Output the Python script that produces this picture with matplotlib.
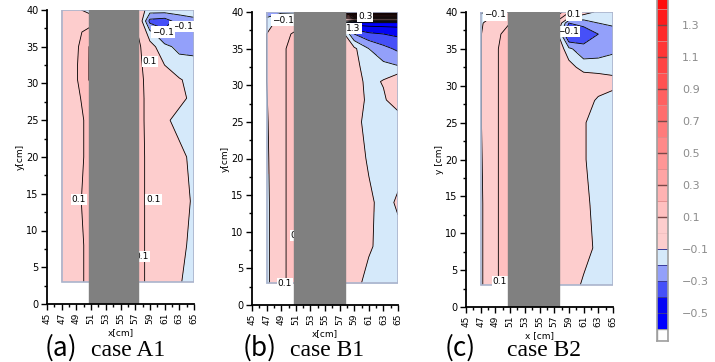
import numpy as np
import matplotlib
matplotlib.use('Agg')
import matplotlib.pyplot as plt
from matplotlib.colors import ListedColormap, BoundaryNorm
from matplotlib.patches import Rectangle

# grid of measuring points (x across, y up)
x_cm = [47, 49, 51, 53, 55, 57, 59, 61, 63, 65]
y_cm = [3, 8, 14, 20, 25, 28, 30.5, 32.5, 35, 37, 38.5, 40]

# vertical velocity, one row per y (bottom to top)
w_a1 = [
    [0.02, 0.08, 0.12, 0.15, 0.15, 0.19, 0.05, 0.00, -0.09, -0.15],
    [0.03, 0.08, 0.12, 0.15, 0.15, 0.19, 0.05, 0.02, -0.06, -0.14],
    [0.04, 0.09, 0.12, 0.15, 0.15, 0.19, 0.05, 0.02, -0.04, -0.12],
    [0.05, 0.08, 0.12, 0.15, 0.15, 0.19, 0.05, 0.00, -0.06, -0.14],
    [0.05, 0.08, 0.12, 0.15, 0.15, 0.19, 0.04, -0.07, -0.15, -0.15],
    [0.05, 0.08, 0.15, 0.15, 0.15, 0.19, 0.04, 0.00, -0.06, -0.14],
    [0.05, 0.09, 0.22, 0.20, 0.15, 0.19, 0.03, -0.03, -0.09, -0.14],
    [0.05, 0.09, 0.22, 0.20, 0.15, 0.19, 0.00, -0.10, -0.17, -0.18],
    [0.04, 0.08, 0.22, 0.20, 0.15, 0.19, -0.05, -0.18, -0.22, -0.22],
    [0.03, 0.07, 0.15, 0.15, 0.15, 0.15, -0.18, -0.28, -0.25, -0.22],
    [0.03, 0.05, 0.05, 0.10, 0.10, 0.10, -0.33, -0.35, -0.25, -0.22],
    [0.02, -0.05, -0.20, 0.00, 0.00, 0.00, -0.15, -0.15, -0.16, -0.16],
]
w_b1 = [
    [-0.14, 0.07, 0.16, 0.15, 0.12, 0.05, -0.05, -0.15, -0.16, -0.16],
    [-0.14, 0.07, 0.16, 0.15, 0.12, 0.08, 0.02, -0.08, -0.15, -0.15],
    [-0.14, 0.07, 0.16, 0.15, 0.12, 0.08, 0.03, -0.07, -0.15, -0.08],
    [-0.13, 0.07, 0.16, 0.15, 0.12, 0.06, -0.02, -0.12, -0.15, -0.16],
    [-0.12, 0.07, 0.16, 0.15, 0.12, 0.05, -0.05, -0.15, -0.16, -0.18],
    [-0.11, 0.07, 0.16, 0.15, 0.12, 0.05, -0.03, -0.13, -0.12, -0.02],
    [-0.10, 0.07, 0.16, 0.15, 0.12, 0.05, -0.04, -0.14, -0.09, 0.00],
    [-0.10, 0.07, 0.16, 0.15, 0.12, 0.05, -0.06, -0.16, -0.17, -0.19],
    [-0.10, 0.07, 0.16, 0.15, 0.12, 0.05, -0.08, -0.20, -0.27, -0.32],
    [-0.10, 0.06, 0.12, 0.10, 0.05, 0.00, -0.30, -0.38, -0.40, -0.42],
    [-0.15, -0.05, 0.05, 0.00, 0.00, -0.20, -0.55, -0.55, -0.55, -0.55],
    [-0.25, -0.22, -0.22, 0.00, 0.20, 0.50, 1.35, 1.35, 1.35, 1.35],
]
w_b2 = [
    [-0.13, 0.08, 0.18, 0.15, 0.12, 0.05, -0.03, -0.12, -0.15, -0.16],
    [-0.13, 0.08, 0.18, 0.15, 0.12, 0.07, 0.02, -0.05, -0.13, -0.15],
    [-0.13, 0.08, 0.18, 0.15, 0.12, 0.07, 0.01, -0.07, -0.14, -0.15],
    [-0.12, 0.08, 0.18, 0.15, 0.12, 0.06, 0.00, -0.09, -0.15, -0.16],
    [-0.11, 0.08, 0.18, 0.15, 0.12, 0.06, 0.00, -0.09, -0.15, -0.16],
    [-0.11, 0.08, 0.18, 0.15, 0.12, 0.06, 0.02, -0.04, -0.12, -0.15],
    [-0.11, 0.08, 0.18, 0.15, 0.12, 0.06, 0.02, 0.00, -0.03, -0.06],
    [-0.11, 0.08, 0.18, 0.15, 0.12, 0.05, -0.05, -0.15, -0.15, -0.15],
    [-0.11, 0.08, 0.18, 0.15, 0.12, 0.05, -0.18, -0.26, -0.25, -0.22],
    [-0.11, 0.07, 0.15, 0.12, 0.10, 0.02, -0.44, -0.38, -0.30, -0.25],
    [-0.12, 0.00, 0.10, 0.10, 0.10, 0.10, -0.30, -0.26, -0.20, -0.18],
    [-0.22, -0.12, -0.10, 0.10, 0.20, 0.30, 0.12, -0.05, -0.12, -0.12],
]

# gray model block hiding the middle of each section
block_a1 = (50.7, 57.4)
block_b1 = (50.75, 57.7)
block_b2 = (50.7, 57.6)

# contour labels (x, y, text)
labels_a1 = [(63.3, 37.8, '−0.1'), (60.8, 37.0, '−0.1'), (59.0, 33.0, '0.1'),
             (49.35, 14.2, '0.1'), (59.5, 14.2, '0.1'), (57.9, 6.5, '0.1')]
labels_b1 = [(49.3, 38.9, '−0.1'), (60.5, 39.4, '0.3'), (58.9, 37.7, '1.3'),
             (49.5, 2.9, '0.1'), (51.3, 9.5, '0.1')]
labels_b2 = [(49.0, 39.6, '−0.1'), (59.7, 39.6, '0.1'), (58.9, 37.3, '−0.1'),
             (49.6, 3.4, '0.1')]

captions = ['(a)', '(b)', '(c)']
cases = ['case A1', 'case B1', 'case B2']
ylabels = ['y[cm]', 'y[cm]', 'y [cm]']
xlabels = ['x[cm]', 'x[cm]', 'x [cm]']
cbar_ticks = [-0.5, -0.3, -0.1, 0.1, 0.3, 0.5, 0.7, 0.9, 1.1, 1.3]

# colour levels
levels = np.round(np.arange(-0.6, 1.61, 0.1), 2)
blues = ['#0000ff', '#0505f5', '#4650f8', '#93a0fa', '#d5e9fa']
pinks = ['#fdcdcd', '#fdcdcd']
reds = []
for i in range(15):
    g = int(192 - 192 * i / 14)
    reds.append((1.0, g / 255, g / 255))
colors = blues + pinks + reds
cmap = ListedColormap(colors)
cmap.set_under('white')
cmap.set_over('#ff0000')
norm = BoundaryNorm(levels, cmap.N)
line_levels = [l for l in levels if abs(l) > 1e-9]

W, H = 715, 362
fig = plt.figure(figsize=(W / 100, H / 100), dpi=100)

boxes = [(47, 10, 194, 304), (252, 12, 398, 305), (466, 12, 613, 307)]
fields = [w_a1, w_b1, w_b2]
blocks = [block_a1, block_b1, block_b2]
all_labels = [labels_a1, labels_b1, labels_b2]

for k in range(3):
    l, t, r, b = boxes[k]
    ax = fig.add_axes([l / W, 1 - b / H, (r - l) / W, (b - t) / H])
    X, Y = np.meshgrid(x_cm, y_cm)
    Z = np.array(fields[k])
    ax.contourf(X, Y, Z, levels=levels, cmap=cmap, norm=norm, extend='both')
    ax.contour(X, Y, Z, levels=line_levels, colors='black', linewidths=0.6,
               linestyles='solid')
    ax.add_patch(Rectangle((x_cm[0], y_cm[0]), x_cm[-1] - x_cm[0], y_cm[-1] - y_cm[0],
                           fill=False, ec='#aab4cc', lw=1.2, zorder=3))
    for lx, ly, txt in all_labels[k]:
        ax.text(lx, ly, txt, fontsize=6.5, ha='center', va='center', zorder=4,
                bbox=dict(fc='white', ec='none', pad=0.8))
    x0, x1 = blocks[k]
    ax.add_patch(Rectangle((x0, 0), x1 - x0, 40, color='#808080', zorder=5))

    ax.set_xlim(45, 65)
    ax.set_ylim(0, 40)
    ax.set_xticks(range(45, 66, 2))
    ax.set_xticks(range(45, 66, 1), minor=True)
    ax.set_yticks(range(0, 41, 5))
    ax.set_yticks(np.arange(0, 41, 2.5), minor=True)
    ax.tick_params(which='major', direction='out', length=4, width=1, labelsize=7, pad=2)
    ax.tick_params(which='minor', direction='out', length=2.5, width=1)
    ax.tick_params(axis='x', labelrotation=90, labelsize=6.5)
    for s in ['top', 'right']:
        ax.spines[s].set_visible(False)
    for s in ['left', 'bottom']:
        ax.spines[s].set_linewidth(1.3)
        ax.spines[s].set_zorder(6)
    ax.set_ylabel(ylabels[k], fontsize=6.5, labelpad=1)
    ax.set_xlabel(xlabels[k], fontsize=6.5, labelpad=3)

# captions
cap_x = [45, 243, 445]
case_x = [91, 290, 507]
for k in range(3):
    fig.text(cap_x[k] / W, 1 - 356 / H, captions[k], fontsize=19,
             family=['Noto Sans CJK JP', 'DejaVu Sans'], va='baseline')
    fig.text(case_x[k] / W, 1 - 356 / H, cases[k], fontsize=17,
             family=['Liberation Serif', 'DejaVu Serif'], va='baseline')

# colour bar drawn by hand, top runs off the figure
cb_bot = -0.675
cb_top = 1.6
px_per = 160
cax = fig.add_axes([657 / W, 1 - 341 / H, 11 / W, (cb_top - cb_bot) * px_per / H])
cax.set_xlim(0, 1)
cax.set_ylim(cb_bot, cb_top)
cax.axhspan(cb_bot, levels[0], fc='white', ec='#9a9a9a', lw=1)
for i in range(len(colors)):
    cax.axhspan(levels[i], levels[i + 1], fc=colors[i], ec='none')
for lv in levels[1:-1]:
    odd = int(round(abs(lv) * 10)) % 2 == 1
    if lv < 0:
        cax.axhline(lv, color='#3a3a9a', lw=0.7)
    elif abs(lv) < 1e-9:
        cax.axhline(lv, color='#f0c0c0', lw=0.6)
    elif odd:
        cax.axhline(lv, color='#7a4848', lw=1.0)
    else:
        cax.axhline(lv, color='#e08a8a', lw=0.6)
cax.set_xticks([])
cax.yaxis.tick_right()
cax.set_yticks(cbar_ticks)
cax.set_yticklabels([f'{v:.1f}'.replace('-', '−') for v in cbar_ticks])
cax.tick_params(axis='y', length=0, pad=10, labelsize=8, labelcolor='#8c8c8c')
for s in cax.spines.values():
    s.set_color('#a0a0a0')
    s.set_linewidth(1.2)

fig.savefig('out.png', dpi=100)
